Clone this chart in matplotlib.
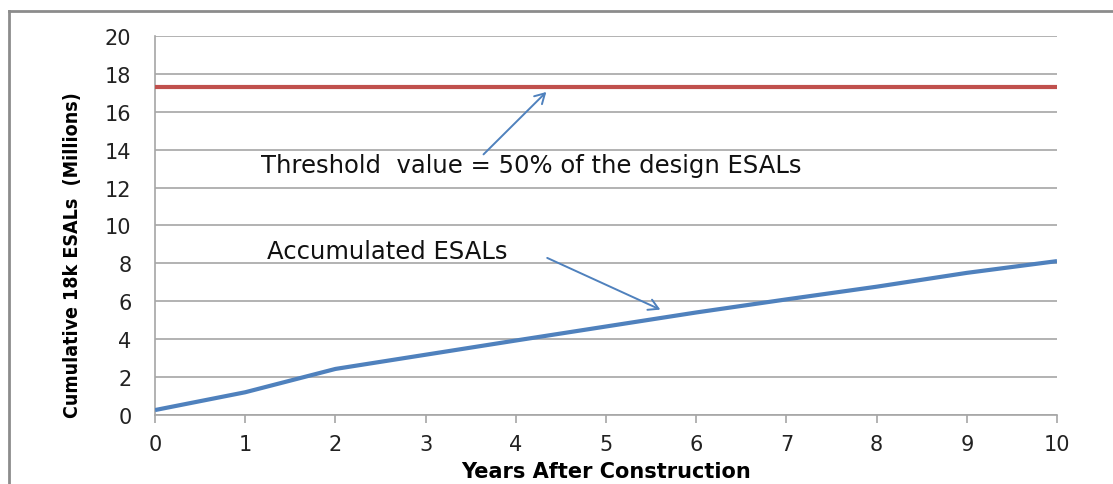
import numpy as np
import matplotlib.pyplot as plt
from matplotlib.lines import Line2D

years = [0, 1, 2, 3, 4, 5, 6, 7, 8, 9, 10]
esals = [0.26, 1.2, 2.43, 3.18, 3.93, 4.67, 5.41, 6.1, 6.77, 7.5, 8.12]
threshold = 17.3

xticks = list(range(0, 11))
yticks = list(range(0, 21, 2))

blue = '#4F81BD'
red = '#C0504D'
grid_c = '#A6A6A6'

fig = plt.figure(figsize=(11.13, 4.85), dpi=100)
ax = fig.add_axes([0.1393, 0.1423, 0.9497 - 0.1393, 0.9237 - 0.1423])

ax.plot(years, esals, color=blue, lw=3.0, solid_capstyle='butt', zorder=3)
ax.plot([years[0], years[-1]], [threshold, threshold], color=red, lw=3.0,
        solid_capstyle='butt', zorder=3)

ax.set_xlim(0, 10)
ax.set_ylim(0, 20)
ax.set_xticks(xticks)
ax.set_yticks(yticks)
ax.grid(axis='y', color=grid_c, lw=1.2)
ax.set_axisbelow(True)
for s in ['top', 'right']:
    ax.spines[s].set_visible(False)
for s in ['left', 'bottom']:
    ax.spines[s].set_color(grid_c)
    ax.spines[s].set_linewidth(1.2)
ax.tick_params(axis='y', length=0, pad=17, labelsize=15, labelcolor='#222222')
ax.tick_params(axis='x', length=6, width=1.2, color=grid_c, pad=8,
               labelsize=15, labelcolor='#222222')

ax.set_xlabel('Years After Construction', fontsize=15, fontweight='bold',
              labelpad=5)
ax.set_ylabel('Cumulative 18k ESALs  (Millions)', fontsize=14, fontweight='bold',
              fontstretch='condensed')
ax.yaxis.set_label_coords(-0.081, 0.425)

ax.text(1.18, 13.2, 'Threshold  value = 50% of the design ESALs', fontsize=17.5,
        va='center', ha='left', color='#111111')
ax.text(1.24, 8.65, 'Accumulated ESALs', fontsize=17.5, va='center', ha='left',
        color='#111111')

arrow = dict(arrowstyle='->,head_length=0.7,head_width=0.4', color=blue, lw=1.4)
ax.annotate('', xy=(4.36, 17.15), xytext=(3.62, 13.65), arrowprops=arrow)
ax.annotate('', xy=(5.63, 5.5), xytext=(4.32, 8.35), arrowprops=arrow)

# outer frame (top and left edges)
fig.add_artist(Line2D([9 / 1113, 1.0], [1 - 12 / 485, 1 - 12 / 485],
                      transform=fig.transFigure, color='#8C8C8C', lw=2))
fig.add_artist(Line2D([9 / 1113, 9 / 1113], [0, 1 - 12 / 485],
                      transform=fig.transFigure, color='#8C8C8C', lw=2))

fig.savefig('out.png', dpi=100)
